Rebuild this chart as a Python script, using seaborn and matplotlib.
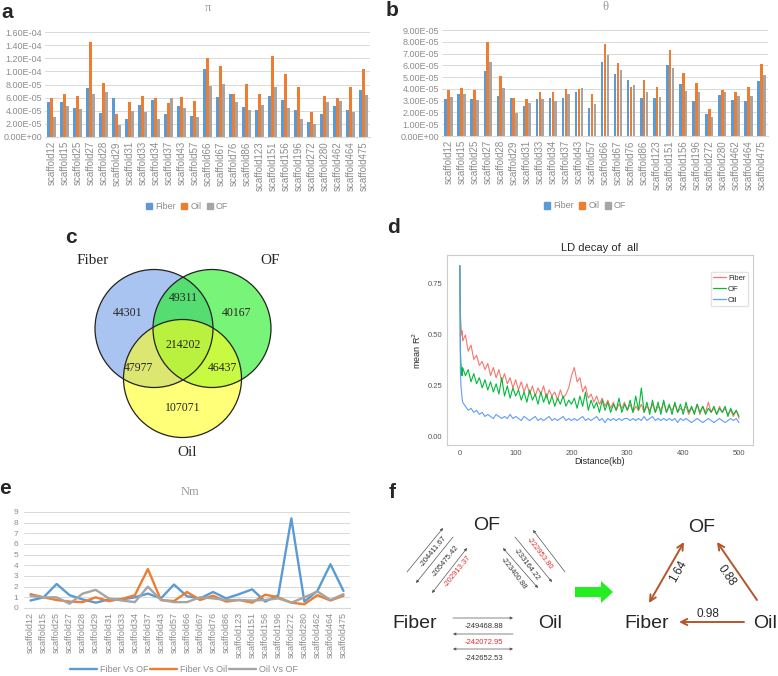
import numpy as np
import pandas as pd
import matplotlib
matplotlib.use("Agg")
import matplotlib.pyplot as plt
import matplotlib.patches as mpatches
from matplotlib.lines import Line2D
from matplotlib.ticker import FuncFormatter
import seaborn as sns

# ---------------- data ----------------
scaffolds = ["scaffold12", "scaffold15", "scaffold25", "scaffold27", "scaffold28",
             "scaffold29", "scaffold31", "scaffold33", "scaffold34", "scaffold37",
             "scaffold43", "scaffold57", "scaffold66", "scaffold67", "scaffold76",
             "scaffold86", "scaffold123", "scaffold151", "scaffold156", "scaffold196",
             "scaffold272", "scaffold280", "scaffold462", "scaffold464", "scaffold475"]
groups = ["Fiber", "Oil", "OF"]

# pi (x 1e-5)
pi_fiber = [5.3, 5.3, 4.4, 7.5, 3.7, 6.0, 2.7, 4.9, 5.6, 3.45, 4.75, 3.15, 10.3, 6.1, 6.5,
            4.5, 4.15, 6.3, 5.7, 4.15, 2.3, 3.45, 4.65, 4.15, 7.1]
pi_oil = [5.9, 6.5, 6.3, 14.5, 8.3, 3.55, 5.4, 6.3, 5.9, 5.25, 6.1, 5.5, 12.0, 10.8, 6.6,
          8.05, 6.5, 12.4, 9.6, 7.6, 3.8, 6.3, 6.0, 7.6, 10.3]
pi_of = [3.0, 4.8, 4.25, 6.6, 6.8, 1.9, 3.9, 3.85, 2.7, 5.9, 4.4, 3.0, 7.7, 8.05, 5.4,
         4.15, 4.9, 7.6, 4.4, 2.8, 2.0, 5.3, 5.5, 3.8, 6.4]

# theta (x 1e-5)
th_fiber = [3.1, 3.6, 3.1, 5.55, 3.4, 3.2, 2.55, 3.1, 3.2, 3.25, 3.75, 2.35, 6.3, 5.3, 4.75,
            3.2, 3.25, 6.0, 4.45, 3.0, 1.85, 3.45, 3.05, 2.95, 4.7]
th_oil = [3.9, 4.1, 3.9, 8.0, 5.1, 3.2, 3.1, 3.75, 3.7, 3.95, 3.95, 3.6, 7.8, 6.2, 4.15,
          4.75, 4.15, 7.3, 5.35, 4.5, 2.3, 3.9, 3.75, 4.15, 6.15]
th_of = [3.35, 3.6, 3.05, 6.3, 4.1, 1.95, 2.8, 3.1, 2.95, 3.55, 4.05, 2.7, 6.85, 5.6, 4.35,
         3.75, 3.35, 5.8, 3.85, 3.75, 1.6, 3.7, 3.4, 3.4, 5.15]

# Venn counts
venn_labels = ["Fiber", "OF", "Oil"]
venn_counts = {"Fiber": 44301, "OF": 40167, "Oil": 107071,
               "Fiber&OF": 49311, "Fiber&Oil": 47977, "OF&Oil": 46437, "all": 214202}

# LD decay
ld_dist = [0, 1, 2, 3, 4] + list(range(5, 501, 5))
ld_fiber = [0.84, 0.60, 0.55, 0.50, 0.52,
            0.47, 0.50, 0.42, 0.45, 0.38, 0.40, 0.35, 0.37, 0.33, 0.36,
            0.30, 0.34, 0.29, 0.33, 0.27, 0.31, 0.26, 0.29, 0.24, 0.28,
            0.23, 0.27, 0.22, 0.26, 0.21, 0.25, 0.20, 0.24, 0.21, 0.25,
            0.19, 0.23, 0.20, 0.22, 0.18, 0.23, 0.19, 0.21, 0.24, 0.30,
            0.34, 0.27, 0.29, 0.22, 0.25, 0.19, 0.21, 0.17, 0.20, 0.16,
            0.19, 0.15, 0.18, 0.14, 0.17, 0.13, 0.16, 0.14, 0.17, 0.13,
            0.16, 0.12, 0.15, 0.13, 0.16, 0.12, 0.15, 0.13, 0.16, 0.12,
            0.15, 0.13, 0.17, 0.12, 0.15, 0.13, 0.16, 0.12, 0.14, 0.13,
            0.15, 0.11, 0.14, 0.12, 0.16, 0.11, 0.15, 0.12, 0.17, 0.12,
            0.14, 0.11, 0.15, 0.12, 0.14, 0.11, 0.13, 0.10, 0.13, 0.09]
ld_of = [0.84, 0.42, 0.36, 0.33, 0.30,
         0.34, 0.30, 0.33, 0.27, 0.31, 0.26, 0.29, 0.24, 0.28, 0.23,
         0.27, 0.22, 0.26, 0.21, 0.29, 0.20, 0.25, 0.19, 0.24, 0.20,
         0.23, 0.18, 0.22, 0.17, 0.23, 0.18, 0.21, 0.16, 0.22, 0.17,
         0.21, 0.16, 0.20, 0.15, 0.19, 0.16, 0.20, 0.15, 0.18, 0.16,
         0.19, 0.14, 0.20, 0.15, 0.22, 0.13, 0.18, 0.14, 0.17, 0.12,
         0.18, 0.13, 0.17, 0.12, 0.16, 0.13, 0.19, 0.12, 0.16, 0.13,
         0.18, 0.12, 0.20, 0.13, 0.24, 0.12, 0.17, 0.11, 0.18, 0.12,
         0.17, 0.11, 0.18, 0.12, 0.16, 0.11, 0.17, 0.12, 0.16, 0.11,
         0.17, 0.12, 0.15, 0.11, 0.16, 0.12, 0.15, 0.11, 0.14, 0.12,
         0.15, 0.11, 0.14, 0.12, 0.15, 0.10, 0.14, 0.11, 0.13, 0.10]
ld_oil = [0.84, 0.32, 0.25, 0.22, 0.19,
          0.17, 0.15, 0.13, 0.14, 0.12, 0.13, 0.11, 0.12, 0.10, 0.11,
          0.10, 0.09, 0.11, 0.10, 0.09, 0.10, 0.09, 0.11, 0.09, 0.10,
          0.09, 0.08, 0.10, 0.09, 0.08, 0.09, 0.10, 0.08, 0.09, 0.08,
          0.09, 0.10, 0.08, 0.09, 0.08, 0.09, 0.10, 0.08, 0.09, 0.08,
          0.09, 0.08, 0.09, 0.10, 0.08, 0.09, 0.08, 0.09, 0.10, 0.08,
          0.09, 0.07, 0.09, 0.08, 0.09, 0.08, 0.09, 0.08, 0.09, 0.09,
          0.08, 0.09, 0.08, 0.09, 0.08, 0.10, 0.08, 0.09, 0.10, 0.08,
          0.09, 0.08, 0.09, 0.08, 0.09, 0.08, 0.09, 0.07, 0.09, 0.08,
          0.09, 0.08, 0.07, 0.08, 0.09, 0.08, 0.07, 0.08, 0.09, 0.08,
          0.07, 0.08, 0.09, 0.08, 0.07, 0.08, 0.09, 0.08, 0.09, 0.07]

# Nm
nm_series = ["Fiber Vs OF", "Fiber Vs Oil", "Oil Vs OF"]
nm_fiber_of = [0.7, 1.0, 2.25, 1.2, 0.8, 0.5, 0.8, 0.8, 1.0, 1.35, 0.9, 2.2, 1.1, 0.9, 1.5,
               0.9, 1.3, 1.75, 0.6, 1.2, 8.4, 0.6, 1.6, 4.1, 1.6]
nm_fiber_oil = [1.3, 1.0, 0.75, 0.6, 0.55, 1.0, 0.65, 0.85, 1.2, 3.65, 0.75, 0.65, 1.5, 0.75, 1.15,
                0.6, 0.75, 0.5, 1.25, 1.0, 0.5, 0.35, 1.2, 0.7, 1.15]
nm_oil_of = [1.15, 1.0, 1.0, 0.4, 1.35, 1.7, 0.9, 0.7, 0.55, 2.0, 0.75, 0.55, 0.55, 1.0, 0.9,
             0.75, 0.75, 0.7, 0.75, 0.9, 0.5, 1.0, 1.55, 0.75, 1.3]

# migration model (panel f)
lik_fiber_of = ["-204411.67", "-205475.42", "-202913.37"]
lik_of_oil = ["-222953.80", "-233164.22", "-223400.88"]
lik_fiber_oil = ["-249468.88", "-242072.95", "-242652.53"]
mig_rates = {"Fiber<->OF": 1.64, "Oil->OF": 0.88, "Oil->Fiber": 0.98}

# ---------------- style ----------------
sns.set_style("white")
plt.rcParams['font.family'] = ['Liberation Sans', 'DejaVu Sans']

W, H = 778, 676
fig = plt.figure(figsize=(W / 100, H / 100), dpi=100)


def px_axes(left, top, right, bottom):
    return fig.add_axes([left / W, 1 - bottom / H, (right - left) / W, (bottom - top) / H])


excel = ["#5B9BD5", "#ED7D31", "#A5A5A5"]
gray_txt = "#8c8c8c"


def bar_panel(ax, f, o, of, ymax, step, title, title_y):
    df = pd.DataFrame({"scaffold": scaffolds * 3,
                       "group": ["Fiber"] * 25 + ["Oil"] * 25 + ["OF"] * 25,
                       "value": [v * 1e-5 for v in f + o + of]})
    sns.barplot(data=df, x="scaffold", y="value", hue="group", hue_order=groups,
                palette=excel, width=0.66, gap=0.12, linewidth=0, saturation=1,
                errorbar=None, ax=ax, legend=False)
    ax.set_xlim(-0.5, 24.5)
    ax.set_ylim(0, ymax)
    ax.set_yticks(np.arange(0, ymax + step / 2, step))
    ax.yaxis.set_major_formatter(FuncFormatter(lambda v, p: f"{v:.2E}"))
    ax.grid(axis="y", color="#d9d9d9", lw=0.7)
    ax.set_axisbelow(True)
    for s in ax.spines.values():
        s.set_visible(False)
    ax.spines["bottom"].set_visible(True)
    ax.spines["bottom"].set_color("#d9d9d9")
    ax.tick_params(axis="x", rotation=90, labelsize=7, colors=gray_txt, length=0, pad=3)
    ax.tick_params(axis="y", labelsize=6.5, colors=gray_txt, length=0, pad=2)
    ax.set_xlabel("")
    ax.set_ylabel("")
    fig.text(ax.get_position().x0 + ax.get_position().width / 2, 1 - title_y / H, title,
             ha="center", va="center", fontsize=9, color="#9a9a9a", family="Liberation Serif")


def square_legend(cx, cy):
    handles = [mpatches.Patch(color=c, label=g) for c, g in zip(excel, groups)]
    fig.legend(handles=handles, loc="center", bbox_to_anchor=(cx / W, 1 - cy / H), ncol=3,
               frameon=False, fontsize=6.5, handlelength=0.7, handleheight=0.7,
               handletextpad=0.3, columnspacing=0.6, labelcolor=gray_txt)


# ---- panel a ----
ax_a = px_axes(45, 32, 370, 137)
bar_panel(ax_a, pi_fiber, pi_oil, pi_of, 1.6e-4, 2e-5, "π", 8)
square_legend(187, 207)

# ---- panel b ----
ax_b = px_axes(442, 30, 768, 136)
bar_panel(ax_b, th_fiber, th_oil, th_of, 9e-5, 1e-5, "θ", 7)
square_legend(585, 206)

# ---- panel c : venn ----
ax_c = fig.add_axes([0, 1 - 460 / H, 390 / W, 265 / H])
ax_c.set_xlim(0, 390)
ax_c.set_ylim(460, 195)
ax_c.axis("off")
circles = {"Fiber": ((154, 328.5), (113 / 255, 157 / 255, 230 / 255)),
           "OF": ((212, 328.5), (30 / 255, 238 / 255, 30 / 255)),
           "Oil": ((182.5, 378.5), (1.0, 1.0, 30 / 255))}
for name in venn_labels:
    (cx, cy), col = circles[name]
    ax_c.add_patch(mpatches.Circle((cx, cy), 59, facecolor=col, alpha=0.6, lw=0))
for name in venn_labels:
    (cx, cy), col = circles[name]
    ax_c.add_patch(mpatches.Circle((cx, cy), 59, facecolor="none", edgecolor="#222222", lw=0.9))
venn_pos = {"Fiber": (128, 313), "OF": (237, 313), "Oil": (183, 408),
            "Fiber&OF": (183, 298), "Fiber&Oil": (139, 368), "OF&Oil": (223, 368), "all": (183, 345)}
for k, v in venn_counts.items():
    x, y = venn_pos[k]
    ax_c.text(x, y, str(v), ha="center", va="center", fontsize=8.5, family="Liberation Serif")
ax_c.text(93, 261, "Fiber", ha="center", va="center", fontsize=11, family="Liberation Serif")
ax_c.text(270, 261, "OF", ha="center", va="center", fontsize=11, family="Liberation Serif")
ax_c.text(187, 453, "Oil", ha="center", va="center", fontsize=11, family="Liberation Serif")

# ---- panel d : LD decay ----
ax_d = px_axes(447, 255, 753, 445)
ld_df = pd.DataFrame({"dist": ld_dist * 3,
                      "r2": ld_fiber + ld_of + ld_oil,
                      "pop": ["Fiber"] * len(ld_dist) + ["OF"] * len(ld_dist) + ["Oil"] * len(ld_dist)})
ld_cols = {"Fiber": "#F8766D", "OF": "#00BA38", "Oil": "#619CFF"}
sns.lineplot(data=ld_df, x="dist", y="r2", hue="pop", hue_order=["Fiber", "OF", "Oil"],
             palette=ld_cols, lw=0.8, ax=ax_d, legend=False)
ax_d.set_xlim(-23, 525)
ax_d.set_ylim(-0.04, 0.892)
ax_d.set_xticks([0, 100, 200, 300, 400, 500])
ax_d.set_yticks([0, 0.25, 0.5, 0.75])
ax_d.set_yticklabels(["0.00", "0.25", "0.50", "0.75"])
ax_d.tick_params(labelsize=5.5, colors="#555555", length=2, width=0.5, direction="out", pad=1.5)
for s in ax_d.spines.values():
    s.set_color("#cccccc")
    s.set_linewidth(0.8)
ax_d.set_xlabel("Distance(kb)", fontsize=6.5, labelpad=0)
ax_d.set_ylabel("mean R$^2$", fontsize=6.5, labelpad=3)
ax_d.set_title("LD decay of  all", fontsize=8, pad=3)
ld_handles = [Line2D([0], [0], color=ld_cols[k], lw=0.9, label=k) for k in ["Fiber", "OF", "Oil"]]
ax_d.legend(handles=ld_handles, loc="upper right", bbox_to_anchor=(0.995, 0.93), fontsize=5.5,
            frameon=True, fancybox=False, edgecolor="#dddddd", handlelength=1.6,
            handletextpad=0.3, borderpad=0.3, labelspacing=0.5)

# ---- panel e : Nm ----
ax_e = px_axes(24, 512, 350, 608)
nm_df = pd.DataFrame({"pos": list(range(25)) * 3,
                      "nm": nm_fiber_of + nm_fiber_oil + nm_oil_of,
                      "series": [nm_series[0]] * 25 + [nm_series[1]] * 25 + [nm_series[2]] * 25})
sns.lineplot(data=nm_df, x="pos", y="nm", hue="series", hue_order=nm_series,
             palette=excel, lw=1.7, ax=ax_e, legend=False)
ax_e.set_xlim(-0.5, 24.5)
ax_e.set_ylim(0, 9)
ax_e.set_yticks(range(10))
ax_e.set_xticks(range(25))
ax_e.set_xticklabels(scaffolds)
ax_e.grid(axis="y", color="#d9d9d9", lw=0.7)
ax_e.set_axisbelow(True)
for s in ax_e.spines.values():
    s.set_visible(False)
ax_e.spines["bottom"].set_visible(True)
ax_e.spines["bottom"].set_color("#d9d9d9")
ax_e.tick_params(axis="x", rotation=90, labelsize=6.5, colors=gray_txt, length=0, pad=3)
ax_e.tick_params(axis="y", labelsize=6, colors=gray_txt, length=0, pad=4)
ax_e.set_xlabel("")
ax_e.set_ylabel("")
fig.text(190 / W, 1 - 492 / H, "Nm", ha="center", va="center", fontsize=9, color="#9a9a9a",
         family="Liberation Serif")
nm_handles = [Line2D([0], [0], color=c, lw=1.7, label=s) for c, s in zip(excel, nm_series)]
fig.legend(handles=nm_handles, loc="center", bbox_to_anchor=(184 / W, 1 - 670 / H), ncol=3,
           frameon=False, fontsize=6.5, handlelength=3.0, handletextpad=0.3, columnspacing=0.2,
           labelcolor=gray_txt)

# ---- panel f : migration model ----
ax_f = fig.add_axes([390 / W, 0, 388 / W, 196 / H])
ax_f.set_xlim(390, 778)
ax_f.set_ylim(676, 480)
ax_f.axis("off")
big = dict(ha="center", va="center", fontsize=14)
ax_f.text(487, 525, "OF", **big)
ax_f.text(415, 623, "Fiber", **big)
ax_f.text(550, 623, "Oil", **big)
ax_f.text(702, 527, "OF", **big)
ax_f.text(647, 623, "Fiber", **big)
ax_f.text(765, 623, "Oil", **big)


def thin_arrow(p0, p1, style, color="#555555"):
    ax_f.annotate("", xy=p1, xytext=p0,
                  arrowprops=dict(arrowstyle=style, color=color, lw=0.5,
                                  mutation_scale=4, shrinkA=0, shrinkB=0))


def side_labels(base, u, n, items, rot):
    # place each label at distance s along and d across the first line
    for (s, d), (t, c) in items:
        x = base[0] + s * u[0] + d * n[0]
        y = base[1] + s * u[1] + d * n[1]
        ax_f.text(x, y, t, rotation=rot, ha="center", va="center", fontsize=5.5, color=c)


red = "#e03030"
dark = "#333333"
# Fiber-OF
thin_arrow((407, 572), (443, 528), "-|>")
thin_arrow((416, 583), (453, 537), "<|-")
thin_arrow((432, 593), (467, 548), "<|-|>")
side_labels((407, 572), (0.633, -0.774), (0.774, 0.633),
            [((33, 7), (lik_fiber_of[0], dark)), ((33, 23), (lik_fiber_of[1], dark)),
             ((33, 39), (lik_fiber_of[2], red))], 51)
# OF-Oil
thin_arrow((533, 530), (565, 572), "<|-")
thin_arrow((515, 537), (552, 582), "-|>")
thin_arrow((503, 548), (538, 588), "<|-|>")
side_labels((533, 530), (0.606, 0.795), (-0.795, 0.606),
            [((23, 9), (lik_of_oil[0], red)), ((24, 26), (lik_of_oil[1], dark)),
             ((22, 42), (lik_of_oil[2], dark))], -53)
# Fiber-Oil
thin_arrow((453, 618), (513, 618), "-|>")
thin_arrow((453, 634), (513, 634), "<|-")
thin_arrow((453, 649), (513, 649), "<|-|>")
for y, t, c in zip([627, 642, 658], lik_fiber_oil, [dark, red, dark]):
    ax_f.text(484, y, t, ha="center", va="center", fontsize=5.5, color=c)

# green arrow
ax_f.add_patch(mpatches.FancyArrow(575, 592, 26, 0, width=10, head_width=22, head_length=12,
                                   length_includes_head=False, color="#22ee22", lw=0))

brown = "#b4562a"
for p0, p1, st in [((649, 603), (684, 542), "<->"), ((757, 600), (717, 542), "->"),
                   ((744, 622), (679, 622), "->")]:
    ax_f.annotate("", xy=p1, xytext=p0,
                  arrowprops=dict(arrowstyle=st, color=brown, lw=1.4, mutation_scale=11,
                                  shrinkA=0, shrinkB=0))
ax_f.text(678, 571, f"{mig_rates['Fiber<->OF']:.2f}", rotation=60, ha="center", va="center", fontsize=8.5)
ax_f.text(727, 576, f"{mig_rates['Oil->OF']:.2f}", rotation=-55, ha="center", va="center", fontsize=8.5)
ax_f.text(708, 614, f"{mig_rates['Oil->Fiber']:.2f}", ha="center", va="center", fontsize=8.5)

# ---- panel letters ----
for (x, y), l in zip([(7, 12), (392, 11), (71, 237), (394, 228), (5, 489), (392, 493)],
                     ["a", "b", "c", "d", "e", "f"]):
    fig.text(x / W, 1 - y / H, l, ha="center", va="center", fontsize=15, fontweight="bold")

fig.savefig("out.png", dpi=100)
